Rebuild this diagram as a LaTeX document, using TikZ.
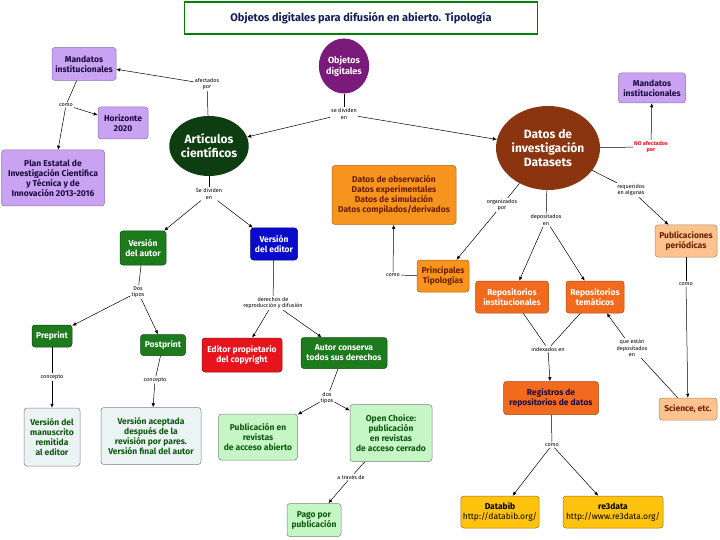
\documentclass[tikz,border=0pt]{standalone}
\usepackage{fontspec}
\setmainfont{Fira Sans}
\usetikzlibrary{shapes.geometric,arrows.meta}
\definecolor{lav}{HTML}{C9A3F2}
\definecolor{lavtxt}{HTML}{1A0A40}
\definecolor{purp}{HTML}{7A1A7A}
\definecolor{dkg}{HTML}{0F3D12}
\definecolor{brn}{HTML}{8A3510}
\definecolor{org}{HTML}{F7941D}
\definecolor{orgtxt}{HTML}{6B1E00}
\definecolor{org2}{HTML}{F26A1E}
\definecolor{peach}{HTML}{FCC38E}
\definecolor{yel}{HTML}{FFC20E}
\definecolor{grn}{HTML}{1D7A1D}
\definecolor{blu}{HTML}{0A0ACC}
\definecolor{rd}{HTML}{E8141B}
\definecolor{pale}{HTML}{ECF3F5}
\definecolor{lgr}{HTML}{C6F5C6}
\definecolor{gtxt}{HTML}{0D5A0D}
\begin{document}
\begin{tikzpicture}[x=1pt,y=-1pt,
  box/.style={rectangle,rounded corners=3pt,align=center,font=\fontsize{8.5}{10}\selectfont\bfseries,inner sep=2pt,line width=0.5pt},
  ell/.style={ellipse,align=center,inner sep=0pt,text=white,font=\fontsize{12}{14}\selectfont\bfseries},
  lab/.style={font=\fontsize{5.5}{6.5}\selectfont,align=center,inner sep=1pt,fill=white},
  ln/.style={line width=0.5pt,black},
  ar/.style={line width=0.5pt,black,-{Latex[length=4pt,width=3.5pt]}}]
\useasboundingbox[fill=white] (0,0) rectangle (720,540);
% title
\node[rectangle,draw=green!50!black,line width=1.2pt,minimum width=353,minimum height=32,font=\fontsize{11}{13}\selectfont\bfseries,text={rgb,255:red,20;green,30;blue,90}] (title) at (361,18) {Objetos digitales para difusión en abierto. Tipología};
% ellipses
\node[ell,fill=purp,minimum width=50,minimum height=55,font=\fontsize{9}{11}\selectfont\bfseries] (obj) at (344,66) {Objetos\\digitales};
\node[ell,fill=dkg,minimum width=76,minimum height=60] (art) at (209,146) {Artículos\\científicos};
\node[ell,fill=brn,minimum width=104,minimum height=84] (dat) at (548,148) {Datos de\\investigación\\Datasets};
% purple
\node[box,fill=lav,draw=lav!70!black,text=lavtxt,minimum width=64,minimum height=33] (manL) at (84,64) {Mandatos\\institucionales};
\node[box,fill=lav,draw=lav!70!black,text=lavtxt,minimum width=50,minimum height=32] (hor) at (123,123) {Horizonte\\2020};
\node[box,fill=lav,draw=lav!70!black,text=lavtxt,minimum width=103,minimum height=56] (plan) at (53,178) {Plan Estatal de\\Investigación Científica\\y Técnica y de\\Innovación 2013-2016};
\node[box,fill=lav,draw=lav!70!black,text=lavtxt,minimum width=67,minimum height=30] (manR) at (652,88) {Mandatos\\institucionales};
% orange
\node[box,fill=org,draw=org!70!black,text=orgtxt,minimum width=124,minimum height=59] (obs) at (394,195) {Datos de observación\\Datos experimentales\\Datos de simulación\\Datos compilados/derivados};
\node[box,fill=org,draw=org!70!black,text=orgtxt,minimum width=52,minimum height=32] (tip) at (443,276) {Principales\\Tipologías};
\node[box,fill=org2,draw=org2!70!black,text=white,minimum width=73,minimum height=32] (rinst) at (512,297) {Repositorios\\institucionales};
\node[box,fill=org2,draw=org2!70!black,text=white,minimum width=58,minimum height=32] (rtem) at (595,297) {Repositorios\\temáticos};
\node[box,fill=peach,draw=peach!70!black,text=orgtxt,minimum width=62,minimum height=32] (pub) at (686,241) {Publicaciones\\periódicas};
\node[box,fill=peach,draw=peach!70!black,text=orgtxt,minimum width=58,minimum height=22] (sci) at (688,409) {Science, etc.};
\node[box,fill=org2,draw=org2!70!black,text=lavtxt,minimum width=95,minimum height=33] (reg) at (551,398) {Registros de\\repositorios de datos};
\node[box,fill=yel,draw=yel!60!black,text=black,minimum width=77,minimum height=32] (dbib) at (500,512) {Databib\\{\mdseries http://databib.org/}};
\node[box,fill=yel,draw=yel!60!black,text=black,minimum width=100,minimum height=32] (re3) at (613,512) {re3data\\{\mdseries http://www.re3data.org/}};
% green/blue/red
\node[box,fill=grn,draw=grn!60!black,text=white,minimum width=46,minimum height=34] (vaut) at (143,248) {Versión\\del autor};
\node[box,fill=blu,draw=blu!60!black,text=white,minimum width=47,minimum height=32] (vedi) at (274,244) {Versión\\del editor};
\node[box,fill=grn,draw=grn!60!black,text=white,minimum width=40,minimum height=22] (pre) at (52,336) {Preprint};
\node[box,fill=grn,draw=grn!60!black,text=white,minimum width=45,minimum height=21] (post) at (163,345) {Postprint};
\node[box,fill=rd,draw=rd!60!black,text=white,minimum width=80,minimum height=34] (edp) at (242,355) {Editor propietario\\del copyright};
\node[box,fill=grn,draw=grn!60!black,text=white,minimum width=86,minimum height=31] (auc) at (344,353) {Autor conserva\\todos sus derechos};
\node[box,fill=pale,draw=gray,text=gtxt,minimum width=56,minimum height=58] (vman) at (52,437) {Versión del\\manuscrito\\remitida\\al editor};
\node[box,fill=pale,draw=gray,text=gtxt,minimum width=100,minimum height=57] (vac) at (151,436) {Versión aceptada\\después de la\\revisión por pares.\\Versión final del autor};
\node[box,fill=lgr,draw=gray,text=gtxt,minimum width=79,minimum height=46] (pacc) at (258,437) {Publicación en\\revistas\\de acceso abierto};
\node[box,fill=lgr,draw=gray,text=gtxt,minimum width=82,minimum height=57] (open) at (391,433) {Open Choice:\\publicación\\en revistas\\de acceso cerrado};
\node[box,fill=lgr,draw=gray,text=gtxt,minimum width=54,minimum height=33] (pago) at (314,520) {Pago por\\publicación};
% labels
\node[lab] (l1) at (207,84) {afectados\\por};
\node[lab] (l2) at (66,105) {como};
\node[lab] (l3) at (344,114) {se dividen\\en};
\node[lab] (l4) at (209,194) {Se dividen\\en};
\node[lab] (l5) at (138,292) {Dos\\tipos};
\node[lab] (l6) at (52,377) {concepto};
\node[lab] (l7) at (155,380) {concepto};
\node[lab] (l8) at (273,303) {derechos de\\reproducción y difusión};
\node[lab] (l9) at (327,398) {dos\\tipos};
\node[lab] (l10) at (351,477) {a través de};
\node[lab] (l11) at (502,205) {organizados\\por};
\node[lab] (l12) at (546,220) {depositados\\en};
\node[lab] (l13) at (631,190) {requeridos\\en algunas};
\node[lab,text=rd,font=\fontsize{5.5}{6.5}\selectfont\bfseries] (l14) at (651,147) {NO afectados\\por};
\node[lab] (l15) at (393,275) {como};
\node[lab] (l16) at (686,284) {como};
\node[lab] (l17) at (632,348) {que están\\depositados\\en};
\node[lab] (l18) at (548,349) {indexados en};
\node[lab] (l19) at (552,445) {como};
% links
\draw[ln] (art) -- (l1); \draw[ar] (l1) -- (manL);
\draw[ln] (manL) -- (l2); \draw[ar] (l2) -- (hor); \draw[ar] (l2) -- (plan);
\draw[ln] (obj) -- (l3); \draw[ar] (l3) -- (art); \draw[ar] (l3) -- (dat);
\draw[ln] (art) -- (l4); \draw[ar] (l4) -- (vaut); \draw[ar] (l4) -- (vedi);
\draw[ln] (vaut) -- (l5); \draw[ar] (l5) -- (pre); \draw[ar] (l5) -- (post);
\draw[ln] (pre) -- (l6); \draw[ar] (l6) -- (vman);
\draw[ln] (post) -- (l7); \draw[ar] (l7) -- (vac);
\draw[ln] (vedi) -- (l8); \draw[ar] (l8) -- (edp); \draw[ar] (l8) -- (auc);
\draw[ln] (auc) -- (l9); \draw[ar] (l9) -- (pacc); \draw[ar] (l9) -- (open);
\draw[ln] (open) -- (l10); \draw[ar] (l10) -- (pago);
\draw[ln] (dat) -- (l11); \draw[ar] (l11) -- (tip);
\draw[ln] (dat) -- (l12); \draw[ar] (l12) -- (rinst); \draw[ar] (l12) -- (rtem);
\draw[ln] (dat) -- (l13); \draw[ar] (l13) -- (pub);
\draw[ln] (dat) -- (l14); \draw[ar] (l14) -- (manR);
\draw[ln] (tip) -- (l15); \draw[ar] (l15) -- (obs);
\draw[ln] (pub) -- (l16); \draw[ar] (l16) -- (sci);
\draw[ln] (sci) -- (l17); \draw[ar] (l17) -- (rtem);
\draw[ln] (rinst) -- (l18); \draw[ln] (rtem) -- (l18); \draw[ar] (l18) -- (reg);
\draw[ln] (reg) -- (l19); \draw[ar] (l19) -- (dbib); \draw[ar] (l19) -- (re3);
\end{tikzpicture}
\end{document}
